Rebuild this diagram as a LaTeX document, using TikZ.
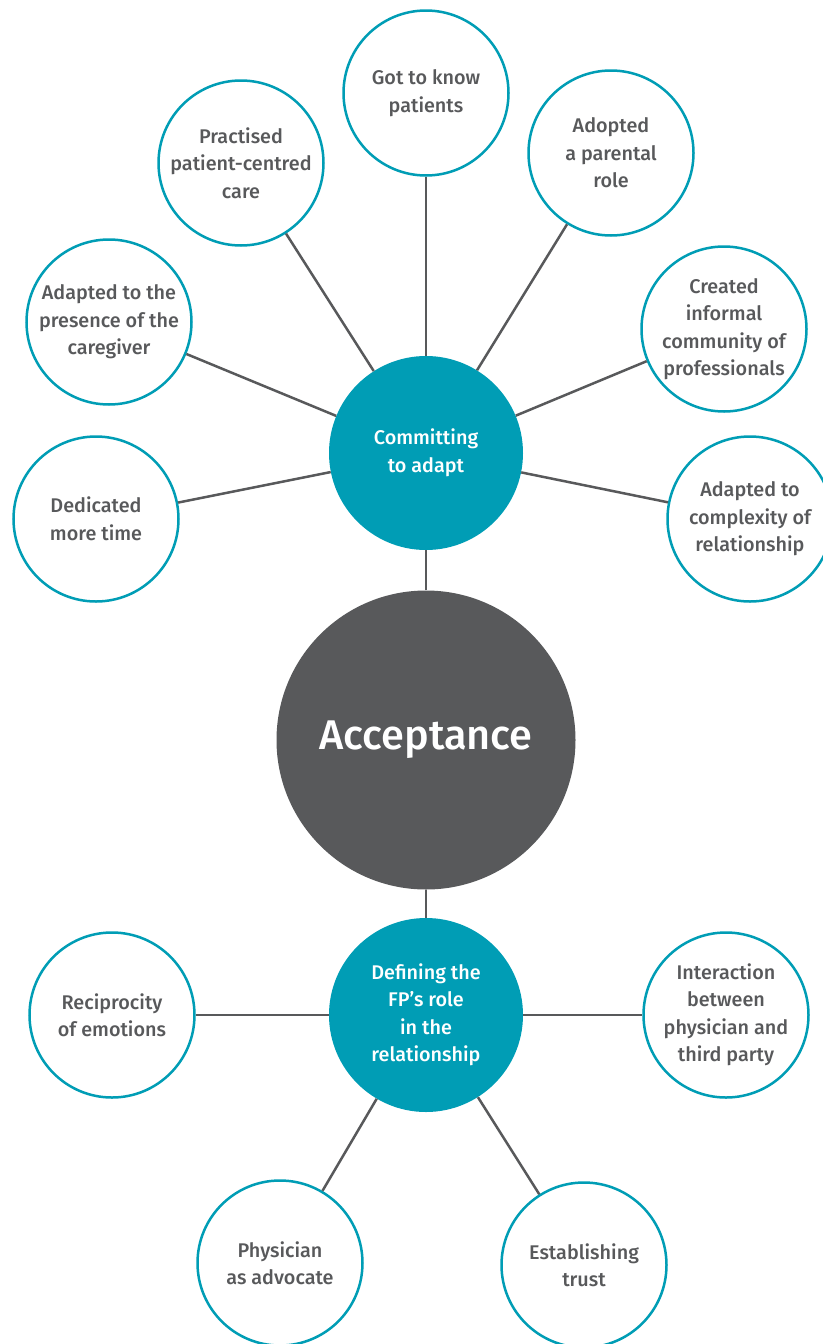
\documentclass[tikz,border=0pt]{standalone}
\usepackage{fontspec}
\setmainfont{Fira Sans}[BoldFont={Fira Sans Medium}]
\definecolor{fpteal}{HTML}{009DB5}
\definecolor{fpgrey}{HTML}{58595B}
\tikzset{
  core/.style={circle, fill=fpgrey, minimum size=299pt, inner sep=0pt,
    text=white, font=\fontsize{41.5}{48}\selectfont\bfseries},
  theme/.style={circle, fill=fpteal, minimum size=194pt, inner sep=0pt,
    align=center, text=white, font=\fontsize{19.8}{27.5}\selectfont\bfseries},
  sub/.style={circle, draw=fpteal, line width=2.5pt, fill=white,
    minimum size=165pt, inner sep=0pt, align=center, text=fpgrey,
    font=\fontsize{19.8}{27.5}\selectfont\bfseries},
  link/.style={draw=fpgrey, line width=2.5pt},
}
\begin{document}
\begin{tikzpicture}[x=1pt,y=-1pt]
  \useasboundingbox (0,0) rectangle (822,1344);
  % centre and the two themes
  \node[core]  (accept) at (426,740) {Acceptance};
  \node[theme] (adapt)  at (426,453) {Committing\\to adapt};
  \node[theme] (role)   at (426,1015) {Defining the\\FP’s role\\in the\\relationship};
  % committing to adapt
  \node[sub] (know)      at (426,93)  {Got to know\\patients};
  \node[sub] (centred)   at (241,163) {Practised\\patient-centred\\care};
  \node[sub] (parental)  at (611,153) {Adopted\\a parental\\role};
  \node[sub] (caregiver) at (109,322) {Adapted to the\\presence of the\\caregiver};
  \node[sub] (community) at (724,329) {Created\\informal\\community of\\professionals};
  \node[sub] (time)      at (96,519)  {Dedicated\\more time};
  \node[sub] (complex)   at (750,519) {Adapted to\\complexity of\\relationship};
  % defining the role
  \node[sub] (emotions)  at (112,1015) {Reciprocity\\of emotions};
  \node[sub] (third)     at (726,1015) {Interaction\\between\\physician and\\third party};
  \node[sub] (advocate)  at (280,1263) {Physician\\as advocate};
  \node[sub] (trust)     at (584,1265) {Establishing\\trust};
  \begin{scope}[link]
    \draw (accept) to (adapt);
    \draw (accept) to (role);
    \draw (adapt) to (know);
    \draw (adapt) to (centred);
    \draw (adapt) to (parental);
    \draw (adapt) to (caregiver);
    \draw (adapt) to (community);
    \draw (adapt) to (time);
    \draw (adapt) to (complex);
    \draw (role) to (emotions);
    \draw (role) to (third);
    \draw (role) to (advocate);
    \draw (role) to (trust);
  \end{scope}
\end{tikzpicture}
\end{document}
